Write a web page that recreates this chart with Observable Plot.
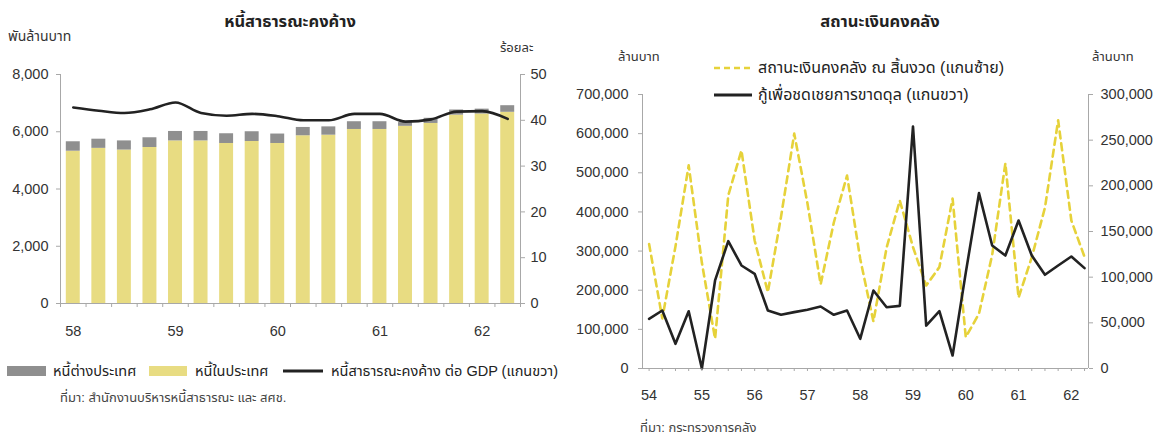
<!DOCTYPE html>
<html><head><meta charset="utf-8">
<script src="https://cdn.jsdelivr.net/npm/d3@7"></script>
<script src="https://cdn.jsdelivr.net/npm/@observablehq/plot@0.6"></script>
<style>
body{margin:0;background:#fff;font-family:"Liberation Sans","Noto Sans Thai",sans-serif;color:#222}
#wrap{position:relative;width:1176px;height:440px;overflow:hidden;background:#fff}
.abs{position:absolute;white-space:nowrap;line-height:1}
.title{font-size:16.5px;font-weight:bold;transform:translateX(-50%)}
.unit{font-size:13px;color:#333}
.leg{font-size:14.5px;color:#222;display:flex;align-items:center}
.leg svg{margin-right:4px}
.src{font-size:13px;color:#444}
#left,#right{position:absolute;top:60px}
#left{left:0}
#right{left:590px}
</style></head>
<body><div id="wrap">
<div class="abs title" style="left:290px;top:13px">หนี้สาธารณะคงค้าง</div>
<div class="abs unit" style="left:8px;top:29px;font-size:14px">พันล้านบาท</div>
<div class="abs unit" style="left:500px;top:41px">ร้อยละ</div>
<div class="abs title" style="left:880px;top:13px">สถานะเงินคงคลัง</div>
<div class="abs unit" style="left:618px;top:50px">ล้านบาท</div>
<div class="abs unit" style="left:1092px;top:50px">ล้านบาท</div>
<div class="abs leg" style="left:714px;top:60px;font-size:16px"><svg width="40" height="12"><line x1="0" y1="6" x2="38" y2="6" stroke="#e6d23a" stroke-width="2.5" stroke-dasharray="6,4"/></svg>สถานะเงินคงคลัง ณ สิ้นงวด (แกนซ้าย)</div>
<div class="abs leg" style="left:714px;top:87px;font-size:16px"><svg width="40" height="12"><line x1="0" y1="6" x2="38" y2="6" stroke="#222" stroke-width="3"/></svg>กู้เพื่อชดเชยการขาดดุล (แกนขวา)</div>
<div class="abs leg" style="left:7px;top:364px"><svg width="42" height="12"><rect x="0" y="1" width="39" height="10" fill="#8f8f8f"/></svg>หนี้ต่างประเทศ</div>
<div class="abs leg" style="left:149px;top:364px"><svg width="42" height="12"><rect x="0" y="1" width="38" height="10" fill="#e8dc82"/></svg>หนี้ในประเทศ</div>
<div class="abs leg" style="left:283px;top:364px"><svg width="44" height="12"><line x1="0" y1="6" x2="40" y2="6" stroke="#222" stroke-width="3"/></svg>หนี้สาธารณะคงค้าง ต่อ GDP (แกนขวา)</div>
<div class="abs src" style="left:60px;top:391px">ที่มา: สำนักงานบริหารหนี้สาธารณะ และ สศช.</div>
<div class="abs src" style="left:640px;top:421px">ที่มา: กระทรวงการคลัง</div>
<div id="left"></div>
<div id="right"></div>
</div>
<script>
// ---------- Left chart data (quarterly, 58Q1 - 62Q2) ----------
const yearLabelsL = ["58", "59", "60", "61", "62"];
const domesticDebt = [5320, 5420, 5360, 5450, 5680, 5680, 5590, 5660, 5590, 5860, 5880, 6080, 6080, 6190, 6290, 6580, 6620, 6680];
const foreignDebt = [330, 320, 320, 340, 330, 330, 340, 340, 330, 290, 290, 270, 270, 130, 180, 180, 170, 230];
const debtToGdp = [42.8, 42.1, 41.6, 42.4, 43.9, 41.6, 41.0, 41.4, 40.9, 40.0, 40.0, 41.4, 41.4, 39.7, 40.2, 41.9, 42.0, 40.3];
const leftTicksL = [0, 2000, 4000, 6000, 8000];
const rightTicksL = [0, 10, 20, 30, 40, 50];

// ---------- Right chart data (quarterly, 54Q1 - 62Q2) ----------
const yearLabelsR = ["54", "55", "56", "57", "58", "59", "60", "61", "62"];
const treasuryBalance = [318000, 128000, 312000, 519000, 270000, 76000, 442000, 557000, 327000, 195000, 388000, 600000, 422000, 215000, 373000, 493000, 280000, 120000, 309000, 429000, 310000, 212000, 259000, 434000, 80000, 140000, 290000, 524000, 181000, 284000, 411000, 634000, 378000, 285000];
const deficitBorrowing = [54400, 63500, 27000, 62700, 0, 96400, 139400, 112800, 103700, 63500, 58800, 61700, 64300, 67900, 58800, 63500, 32500, 85400, 67100, 68600, 265000, 47000, 62700, 14200, 105000, 192000, 134700, 123700, 162000, 123700, 102600, 112800, 122600, 109900];
const leftTicksR = [0, 100000, 200000, 300000, 400000, 500000, 600000, 700000];
const rightTicksR = [0, 50000, 100000, 150000, 200000, 250000, 300000];

const FONT = '"Liberation Sans","Noto Sans Thai",sans-serif';
const axisGrey = "#a8a8a8";
const fmt = d3.format(",");

// ---------- Left chart ----------
{
  const n = domesticDebt.length;
  const idx = d3.range(n);
  const yMax = leftTicksL[leftTicksL.length - 1];
  const k = yMax / rightTicksL[rightTicksL.length - 1];
  const chart = Plot.plot({
    width: 580, height: 288,
    marginTop: 14, marginBottom: 45, marginLeft: 60, marginRight: 60,
    style: {fontSize: "14.5px", fontFamily: FONT, color: "#333", background: "transparent", overflow: "visible"},
    x: {type: "linear", domain: [-0.5, n - 0.5]},
    y: {domain: [0, yMax]},
    marks: [
      Plot.rectY(idx, {x1: i => i - 0.5, x2: i => i + 0.5, y1: 0, y2: i => domesticDebt[i], fill: "#e8dc82", insetLeft: 5.8, insetRight: 5.8}),
      Plot.rectY(idx, {x1: i => i - 0.5, x2: i => i + 0.5, y1: i => domesticDebt[i], y2: i => domesticDebt[i] + foreignDebt[i], fill: "#8f8f8f", insetLeft: 5.8, insetRight: 5.8}),
      Plot.ruleY([0], {stroke: axisGrey}),
      Plot.ruleX([-0.5, n - 0.5], {stroke: axisGrey}),
      Plot.lineY(idx, {x: i => i, y: i => debtToGdp[i] * k, stroke: "#222", strokeWidth: 2.6, curve: "monotone-x"}),
      Plot.axisY({anchor: "left", ticks: leftTicksL, tickFormat: fmt, tickSize: 4, tickPadding: 8, stroke: axisGrey, fill: "#333", label: null}),
      Plot.axisY({anchor: "right", ticks: rightTicksL.map(v => v * k), tickFormat: d => fmt(Math.round(d / k)), tickSize: 4, tickPadding: 6, stroke: axisGrey, fill: "#333", label: null}),
      Plot.axisX({ticks: d3.range(-0.5, n, 1), tickFormat: () => "", tickSize: 4, stroke: axisGrey, label: null}),
      Plot.axisX({ticks: yearLabelsL.map((_, j) => j * 4), tickFormat: i => yearLabelsL[i / 4], tickSize: 0, tickPadding: 22, fill: "#333", label: null})
    ]
  });
  document.getElementById("left").appendChild(chart);
}

// ---------- Right chart ----------
{
  const n = treasuryBalance.length;
  const idx = d3.range(n);
  const yMax = leftTicksR[leftTicksR.length - 1];
  const k = yMax / rightTicksR[rightTicksR.length - 1];
  const chart = Plot.plot({
    width: 586, height: 348,
    marginTop: 34, marginBottom: 40, marginLeft: 52, marginRight: 88,
    style: {fontSize: "14.5px", fontFamily: FONT, color: "#333", background: "transparent", overflow: "visible"},
    x: {type: "linear", domain: [-0.5, n - 0.7]},
    y: {domain: [0, yMax]},
    marks: [
      Plot.ruleY([0], {stroke: axisGrey}),
      Plot.ruleX([-0.5, n - 0.7], {stroke: axisGrey}),
      Plot.lineY(idx, {x: i => i, y: i => treasuryBalance[i], stroke: "#e6d23a", strokeWidth: 2.6, strokeDasharray: "7,5"}),
      Plot.lineY(idx, {x: i => i, y: i => deficitBorrowing[i] * k, stroke: "#222", strokeWidth: 2.6}),
      Plot.axisY({anchor: "left", ticks: leftTicksR, tickFormat: fmt, tickSize: 4, tickPadding: 10, stroke: axisGrey, fill: "#333", label: null}),
      Plot.axisY({anchor: "right", ticks: rightTicksR.map(v => v * k), tickFormat: d => fmt(Math.round(d / k)), tickSize: 4, tickPadding: 8, stroke: axisGrey, fill: "#333", label: null}),
      Plot.axisX({ticks: idx, tickFormat: () => "", tickSize: 3, stroke: axisGrey, label: null}),
      Plot.axisX({ticks: yearLabelsR.map((_, j) => j * 4), tickFormat: i => yearLabelsR[i / 4], tickSize: 0, tickPadding: 21, fill: "#333", label: null})
    ]
  });
  document.getElementById("right").appendChild(chart);
}
</script>
</body></html>
